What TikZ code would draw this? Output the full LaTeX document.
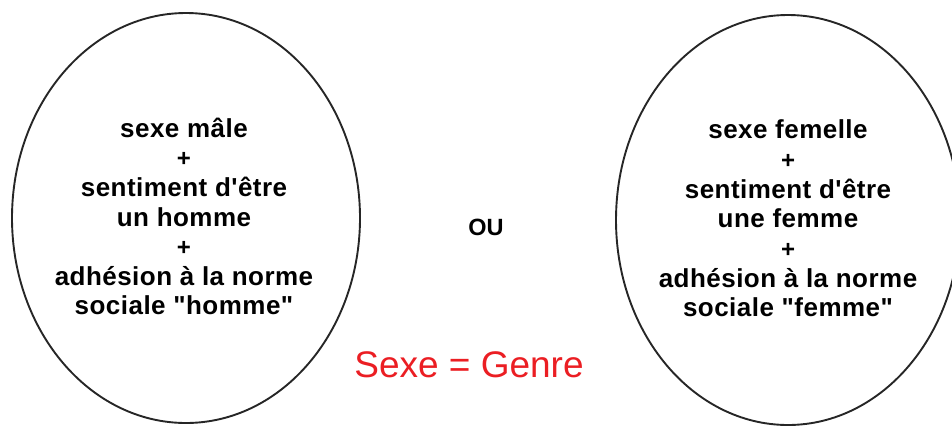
\documentclass[tikz,border=0pt]{standalone}
\usepackage{fontspec}
\newfontfamily\labfont{Liberation Sans}[Ligatures=TeXOff]
\newfontfamily\bodyfont{Liberation Sans}[Ligatures=TeXOff,LetterSpace=1.8]
\definecolor{labred}{RGB}{235,30,35}
% plus sign between the lines, a little smaller than the words
\newcommand{\plusline}{{\fontsize{24}{29.6}\selectfont +}}
\begin{document}
\begin{tikzpicture}[x=1pt,y=-1pt,
  oval/.style={draw=black!85,line width=1.9pt},
  body/.style={align=center,inner sep=0pt,
    font=\bodyfont\bfseries\fontsize{26}{29.6}\selectfont},
  ornode/.style={inner sep=0pt,font=\labfont\bfseries\fontsize{23.5}{28}\selectfont},
  redlabel/.style={inner sep=0pt,text=labred,font=\labfont\fontsize{37}{40}\selectfont}]
  \useasboundingbox (0,0) rectangle (952,426);
  \clip (0,0) rectangle (952,426);
  % two ellipses
  \draw[oval] (186,218) ellipse [x radius=174pt, y radius=205pt];
  \draw[oval] (788,220) ellipse [x radius=172pt, y radius=205pt];
  % contents
  \node[body] (male) at (184,216.5) {sexe mâle\\\plusline\\sentiment d'être\\un homme\\\plusline\\adhésion à la norme\\sociale "homme"};
  \node[body] (female) at (788,218.5) {sexe femelle\\\plusline\\sentiment d'être\\une femme\\\plusline\\adhésion à la norme\\sociale "femme"};
  \node[ornode] (ou) at (486,227) {OU};
  \node[redlabel] (eq) at (469,365) {Sexe = Genre};
\end{tikzpicture}
\end{document}
